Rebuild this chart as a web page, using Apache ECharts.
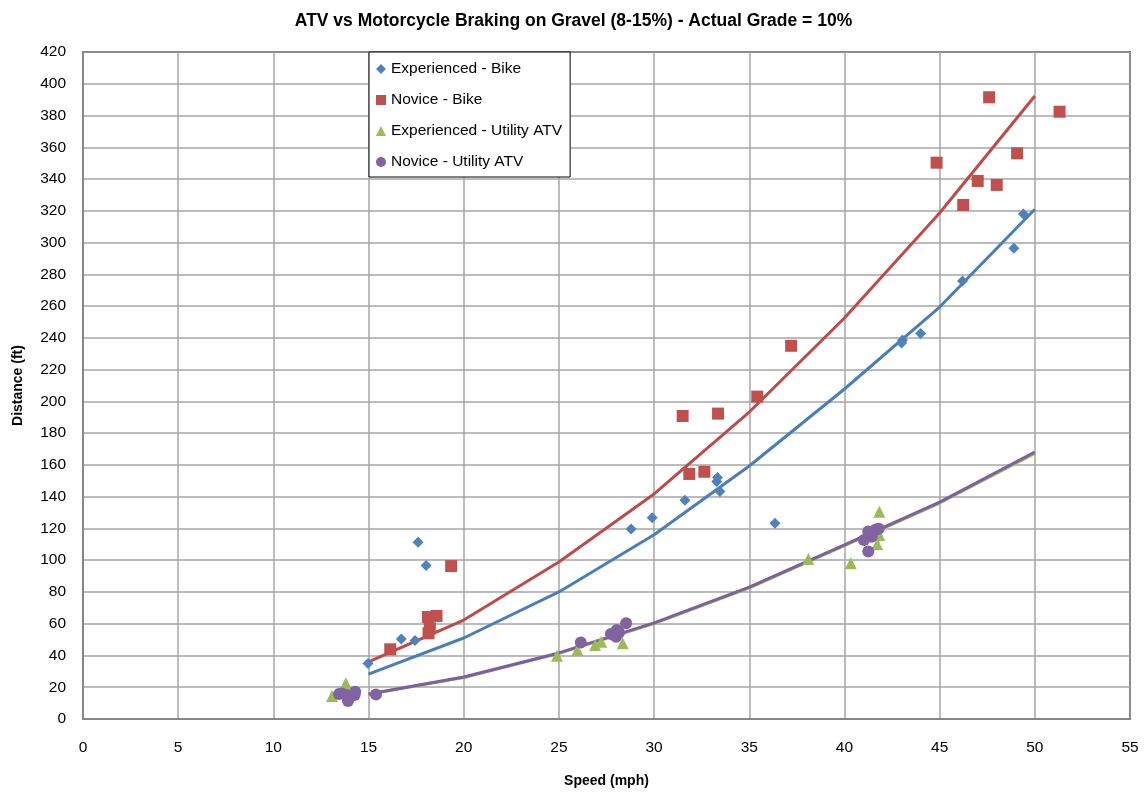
<!DOCTYPE html>
<html><head><meta charset="utf-8">
<script src="https://cdn.jsdelivr.net/npm/echarts@6/dist/echarts.min.js"></script>
<style>html,body{margin:0;padding:0;background:#fff}#c{width:1147px;height:796px}</style>
</head><body><div id="c"></div>
<script>
const title = 'ATV vs Motorcycle Braking on Gravel (8-15%) - Actual Grade = 10%';
const seriesNames = ['Experienced - Bike', 'Novice - Bike', 'Experienced - Utility ATV', 'Novice - Utility ATV'];
const expBike = [[14.97,35],[16.72,50.4],[17.44,49.5],[17.6,111.3],[18.02,96.6],[28.79,119.6],[29.9,126.8],[31.62,137.8],[33.33,152],[33.29,149.6],[33.46,143.3],[36.35,123.3],[43.0,236.8],[43.05,238.6],[44.0,242.8],[46.2,275.8],[48.9,296.5],[49.4,318]];
const novBike = [[16.14,43.9],[18.12,64.2],[18.57,64.9],[18.22,57.1],[18.15,54],[19.34,96.3],[31.5,190.8],[33.36,192.3],[35.42,203],[31.85,154.3],[32.64,155.7],[37.2,235],[44.84,350.3],[46.24,323.7],[47.0,338.8],[47.6,391.5],[48.0,336.3],[49.07,356.2],[51.3,382.4]];
const expATV = [[13.08,14.5],[13.81,22.5],[13.85,18],[24.9,39.9],[25.97,43.4],[26.9,46.6],[27.22,48.7],[28.35,47.7],[38.1,100.8],[40.33,98],[41.83,130.5],[41.83,115.9],[41.72,110]];
const novATV = [[13.45,15.7],[13.6,16],[13.87,15.1],[13.92,11.3],[14.3,17.2],[14.27,15.1],[15.39,15.5],[26.15,48.1],[27.73,53.5],[28.04,56],[28.0,51.8],[28.16,54.4],[28.53,60.3],[41.02,112.7],[41.25,118],[41.65,119.4],[41.43,114.8],[41.25,105.4],[41.8,119.8]];
const trendX = [15,20,25,30,35,40,45,50];
const trendExpBike = [28.3,51,80,116,159.3,207.8,259.4,321];
const trendNovBike = [35.9,62.3,98.9,141.7,193.3,252.5,318.6,392.3];
const trendExpATV = [15.5,26.1,41.3,60.1,82.6,109.2,136,167.2];
const trendNovATV = [15.7,26.4,41.6,60.5,83.1,109.6,136.6,168.1];
const xAxisName = 'Speed (mph)';
const yAxisName = 'Distance (ft)';

const colors = ['#4F81BD','#C0504D','#9BBB59','#8064A2'];
const lineColors = ['#4A7EBB','#BE4B48','#98B954','#7D60A0'];
const font = 'Liberation Sans, Arial, sans-serif';
const zip = (xs, ys) => xs.map((x,i)=>[x, ys[i]]);

const chart = echarts.init(document.getElementById('c'), null, {renderer:'canvas'});
const scatter = (name, data, symbol, size, color, z) => ({
  name, type:'scatter', data, symbol, symbolSize:size, z,
  itemStyle:{color, opacity:1}, emphasis:{disabled:true}
});
const line = (data, color, z) => ({
  type:'line', data, symbol:'none', z, silent:true,
  lineStyle:{color, width:3}, emphasis:{disabled:true}
});
chart.setOption({
  animation:false,
  textStyle:{fontFamily:font},
  title:{text:title, left:'center', top:7, textStyle:{fontFamily:font, fontSize:17.5, fontWeight:'bold', color:'#000'}},
  grid:{left:83, top:52, width:1047, height:667, show:true, borderColor:'#000', borderWidth:1.5, backgroundColor:'transparent'},
  legend:{
    data: seriesNames.map((n,i)=>({name:n, icon:['diamond','rect','triangle','circle'][i]})),
    orient:'vertical', left:369, top:52,
    backgroundColor:'#fff', borderColor:'#000', borderWidth:1,
    padding:[8,8,6,7], itemGap:13, itemWidth:10, itemHeight:10,
    textStyle:{fontFamily:font, fontSize:15.5, color:'#000', lineHeight:18}
  },
  xAxis:{
    type:'value', min:0, max:55, interval:5,
    name:xAxisName, nameLocation:'middle', nameGap:55,
    nameTextStyle:{fontFamily:font, fontSize:14, fontWeight:'bold', color:'#000'},
    axisLine:{show:true, onZero:false, lineStyle:{color:'#868686', width:2}},
    axisTick:{show:false},
    axisLabel:{fontFamily:font, fontSize:15.5, color:'#000', margin:21},
    splitLine:{show:true, lineStyle:{color:'#A6A6A6', width:1.5}}
  },
  yAxis:{
    type:'value', min:0, max:420, interval:20,
    name:yAxisName, nameLocation:'middle', nameGap:58,
    nameTextStyle:{fontFamily:font, fontSize:14, fontWeight:'bold', color:'#000'},
    axisLine:{show:true, lineStyle:{color:'#868686', width:2}},
    axisTick:{show:false},
    axisLabel:{fontFamily:font, fontSize:15.5, color:'#000', margin:17},
    splitLine:{show:true, lineStyle:{color:'#A6A6A6', width:1.5}}
  },
  series:[
    scatter(seriesNames[0], expBike, 'diamond', 11, colors[0], 5),
    scatter(seriesNames[1], novBike, 'rect', 12, colors[1], 5),
    scatter(seriesNames[2], expATV, 'triangle', 12, colors[2], 5),
    scatter(seriesNames[3], novATV, 'circle', 12, colors[3], 6),
    line(zip(trendX, trendExpBike), lineColors[0], 3),
    line(zip(trendX, trendNovBike), lineColors[1], 3),
    line(zip(trendX, trendExpATV), lineColors[2], 3),
    line(zip(trendX, trendNovATV), lineColors[3], 4)
  ]
});
</script></body></html>
